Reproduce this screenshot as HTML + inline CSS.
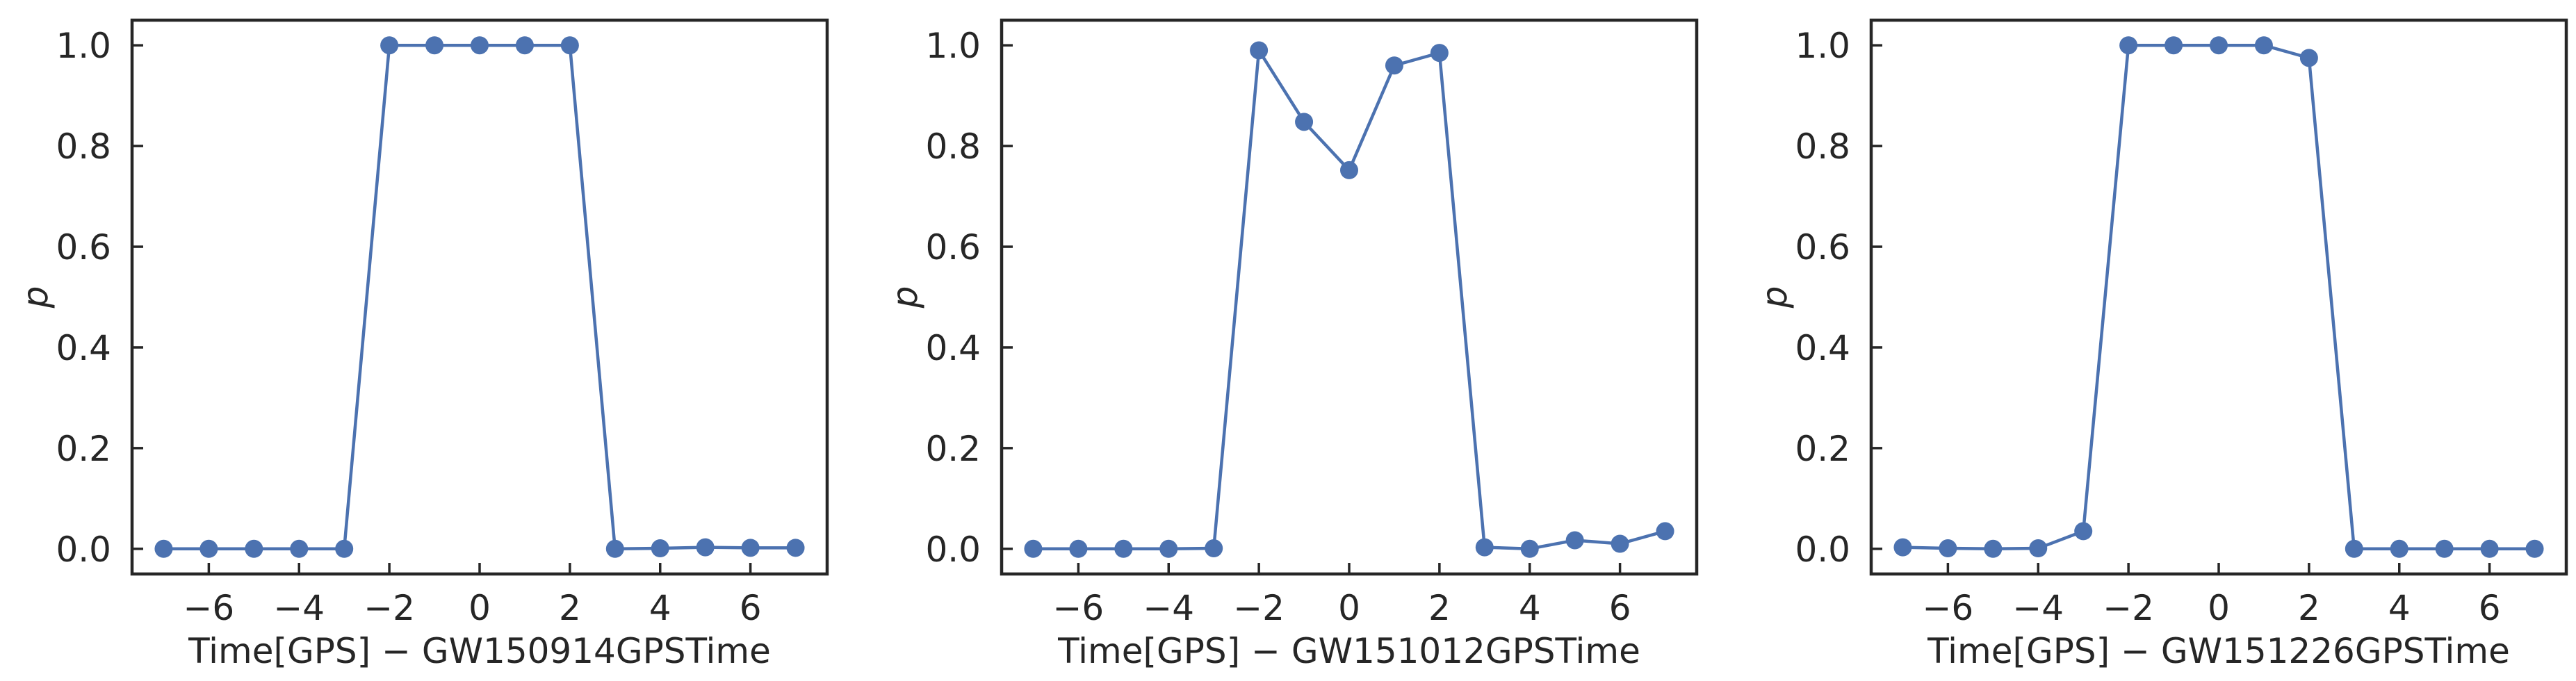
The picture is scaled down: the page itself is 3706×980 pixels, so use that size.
<!DOCTYPE html>
<html><head><meta charset="utf-8"><style>
html,body{margin:0;padding:0;background:#fff;}
svg{display:block;}
text{font-family:"DejaVu Sans","Liberation Sans",sans-serif;fill:#262626;}
</style></head><body>
<svg id="chart" width="3706" height="980" viewBox="0 0 3706 980" xmlns="http://www.w3.org/2000/svg"></svg>
<script>
const xs = [-7,-6,-5,-4,-3,-2,-1,0,1,2,3,4,5,6,7];
const p1 = [0,0,0,0,0,1,1,1,1,1,0.0,0.001,0.003,0.002,0.002];
const p2 = [0,0,0,0,0.001,0.99,0.848,0.752,0.96,0.985,0.003,0.0,0.017,0.01,0.035];
const p3 = [0.003,0.001,0,0.001,0.035,1,1,1,1,0.975,0,0,0,0,0];
const xTicks = [-6,-4,-2,0,2,4,6];
const yTicks = [0,0.2,0.4,0.6,0.8,1.0];
const events = ["GW150914","GW151012","GW151226"];
const series = [p1,p2,p3];
const panelLefts = [190,1441,2692];

const NS="http://www.w3.org/2000/svg";
const svgEl=document.getElementById('chart');
function mk(tag,attrs,parent){const e=document.createElementNS(NS,tag);for(const k in attrs)e.setAttribute(k,attrs[k]);(parent||svgEl).appendChild(e);return e;}
const W=1000, axTop=29, axBottom=826;
for(let i=0;i<3;i++){
  const L=panelLefts[i], R=L+W;
  const g=mk('g',{});
  
  
  const sx=v=>L+(v+7.7)/15.4*W;
  const sy=v=>axBottom-(v+0.05)/1.1*(axBottom-axTop);
  xTicks.forEach(t=>{
    const ln=mk('line',{x1:sx(t),x2:sx(t),y1:axBottom,y2:axBottom-16,stroke:'#262626','stroke-width':3.5},g);
    
    
    const tx=mk('text',{x:sx(t),y:axBottom+66,'font-size':50,'text-anchor':'middle'},g);
    tx.textContent=(t<0?'\u2212'+(-t):String(t));
    
    
  });
  yTicks.forEach(t=>{
    const ln=mk('line',{x1:L,x2:L+16,y1:sy(t),y2:sy(t),stroke:'#262626','stroke-width':3.5},g);
    
    
    const tx=mk('text',{x:L-30,y:sy(t)+18,'font-size':50,'text-anchor':'end'},g);
    tx.textContent=t.toFixed(1);
    
    
  });
  const d=xs.map((x,j)=>(j?'L':'M')+sx(x)+','+sy(series[i][j])).join(' ');
  const path=mk('path',{d:d,fill:'none',stroke:'#4c72b0','stroke-width':4.5},g);
  
  
  xs.forEach((x,j)=>{
    const c=mk('circle',{cx:sx(x),cy:sy(series[i][j]),r:13,fill:'#4c72b0'},g);
    
    
  });
  const fr=mk('rect',{x:L,y:axTop,width:W,height:axBottom-axTop,fill:'none',stroke:'#262626','stroke-width':4.5},g);
  
  
  const xl=mk('text',{x:(L+R)/2,y:axBottom+128,'font-size':50,'text-anchor':'middle'},g);
  xl.textContent='Time[GPS] \u2212 '+events[i]+'GPSTime';
  
  
  const yl=mk('text',{x:0,y:0,'font-size':50,'font-style':'italic','text-anchor':'middle',transform:'translate('+(L-122)+','+((axTop+axBottom)/2)+') rotate(-90)'},g);
  yl.textContent='p';
  
  
}
</script>
</body></html>
